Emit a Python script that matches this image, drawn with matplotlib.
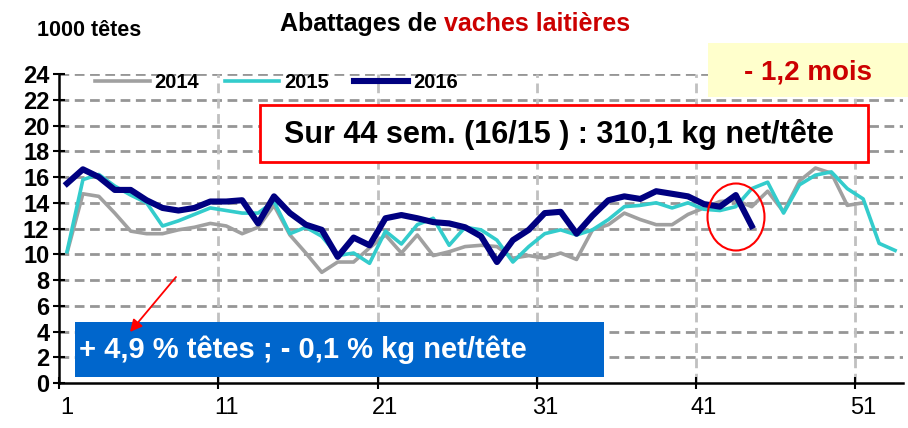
import numpy as np
import matplotlib.pyplot as plt
from matplotlib.patches import Ellipse, Rectangle, FancyArrowPatch

plt.rcParams["font.family"] = ["Liberation Sans", "DejaVu Sans"]

# Weekly dairy cow slaughter (1000 heads)
weeks_2014 = np.arange(1, 52)
tetes_2014 = [10.1, 14.7, 14.5, 13.2, 11.8, 11.6, 11.6, 11.9, 12.1, 12.4,
              12.2, 11.6, 12.1, 13.8, 11.5, 10.1, 8.6, 9.4, 9.4, 10.5,
              11.5, 10.1, 11.5, 9.9, 10.2, 10.6, 10.7, 10.6, 9.7, 9.9,
              9.7, 10.1, 9.6, 11.9, 12.3, 13.2, 12.7, 12.3, 12.3, 13.1,
              13.6, 14.1, 14.2, 13.7, 14.9, 13.3, 15.7, 16.7, 16.3, 13.8,
              14.0]

weeks_2015 = np.arange(1, 54)
tetes_2015 = [10.2, 15.8, 16.2, 15.3, 14.6, 14.0, 12.2, 12.6, 13.1, 13.6,
              13.4, 13.2, 13.2, 14.1, 11.6, 12.1, 11.4, 9.9, 10.1, 9.3,
              11.8, 10.8, 12.3, 12.8, 10.7, 12.1, 11.9, 11.1, 9.4, 10.6,
              11.6, 11.9, 11.5, 11.9, 12.7, 13.7, 13.8, 14.0, 13.6, 14.0,
              13.5, 13.4, 13.7, 15.1, 15.6, 13.2, 15.4, 16.15, 16.4, 15.1,
              14.3, 10.85, 10.3]

weeks_2016 = np.arange(1, 45)
tetes_2016 = [15.5, 16.6, 16.0, 15.0, 15.0, 14.2, 13.6, 13.4, 13.6, 14.1,
              14.1, 14.2, 12.4, 14.5, 13.2, 12.3, 11.9, 9.8, 11.3, 10.7,
              12.8, 13.05, 12.8, 12.5, 12.4, 12.1, 11.4, 9.4, 11.1, 11.9,
              13.2, 13.3, 11.6, 13.0, 14.2, 14.5, 14.3, 14.9, 14.7, 14.5,
              13.9, 13.7, 14.6, 12.2]

fig = plt.figure(figsize=(9.08, 4.28), dpi=100)
ax = fig.add_axes([0.065, 0.105, 0.9295, 0.722])

ax.plot(weeks_2014, tetes_2014, color="#A0A0A0", lw=2.6, label="2014", zorder=3)
ax.plot(weeks_2015, tetes_2015, color="#33CCCC", lw=2.6, label="2015", zorder=4)
ax.plot(weeks_2016, tetes_2016, color="#000080", lw=4.4, label="2016", zorder=5)

ax.set_xlim(0.5, 53.5)
ax.set_ylim(0, 24)

# Y axis
ax.set_yticks(np.arange(0, 25, 2))
ax.tick_params(axis="y", labelsize=17, direction="inout", length=8, width=1.5, pad=3)
for lab in ax.get_yticklabels():
    lab.set_fontweight("bold")
for y in np.arange(2, 25, 2):
    ax.axhline(y, color="#969696", lw=2, ls=(0, (3.5, 2)), zorder=1)

# X axis: labels centred on the week, ticks between categories
ax.set_xticks([1, 11, 21, 31, 41, 51])
ax.set_xticklabels(["1", "11", "21", "31", "41", "51"])
ax.tick_params(axis="x", which="major", length=0, labelsize=17, pad=10)
ax.set_xticks([0.5, 10.5, 20.5, 30.5, 40.5, 50.5], minor=True)
ax.tick_params(axis="x", which="minor", direction="inout", length=9, width=1.5)
for x in [10.5, 20.5, 30.5, 40.5, 50.5]:
    ax.axvline(x, color="#C0C0C0", lw=2, ls=(0, (3.5, 2)), zorder=1)

for s in ["top", "right"]:
    ax.spines[s].set_visible(False)
ax.spines["left"].set_linewidth(1.8)
ax.spines["bottom"].set_linewidth(1.8)

ax.legend(loc="center left", bbox_to_anchor=(0.043, 0.973), ncol=3, frameon=False,
          prop={"weight": "bold", "size": 14.5}, handlelength=2.7, handletextpad=0.25,
          columnspacing=1.25, borderpad=0, borderaxespad=0)

# Titles
t1 = fig.text(280 / 908, 0.945, "Abattages de ", fontsize=18, fontweight="bold",
              ha="left", va="center")
fig.canvas.draw()
bb = t1.get_window_extent()
fig.text(bb.x1 / fig.bbox.width, 0.945, "vaches laitières", fontsize=18, fontweight="bold",
         color="#CC0000", ha="left", va="center")
fig.text(37 / 908, 0.928, "1000 têtes", fontsize=15.5, fontweight="bold", ha="left", va="center")

# Yellow box
fig.patches.append(Rectangle((708 / 908, 1 - 97 / 428), 200 / 908, 54 / 428,
                             transform=fig.transFigure, facecolor="#FFFFCC", edgecolor="none", zorder=0))
fig.text(808 / 908, 1 - 72 / 428, "- 1,2 mois", fontsize=20, fontweight="bold", color="#CC0000",
         ha="center", va="center")

# Red framed box
fig.patches.append(Rectangle((260 / 908, 1 - 162 / 428), 608 / 908, 57 / 428,
                             transform=fig.transFigure, facecolor="white", edgecolor="#FF0000",
                             lw=2, zorder=9))
fig.text(559 / 908, 1 - 134 / 428, "Sur 44 sem. (16/15 ) : 310,1 kg net/tête", fontsize=22,
         fontweight="bold", ha="center", va="center", zorder=10)

# Blue box
fig.patches.append(Rectangle((75 / 908, 1 - 377 / 428), 529 / 908, 55 / 428,
                             transform=fig.transFigure, facecolor="#0066CC", edgecolor="none", zorder=6))
fig.text(79 / 908, 1 - 350 / 428, "+ 4,9 % têtes ; - 0,1 % kg net/tête", fontsize=21,
         fontweight="bold", color="white", ha="left", va="center", zorder=11)

# Arrow and ellipse
arrow = FancyArrowPatch((176 / 908, 1 - 277 / 428), (130 / 908, 1 - 332 / 428),
                        transform=fig.transFigure, arrowstyle="-|>", color="#FF0000",
                        lw=1.3, mutation_scale=18, shrinkA=0, shrinkB=0, zorder=12)
fig.patches.append(arrow)
fig.patches.append(Ellipse((736 / 908, 1 - 217 / 428), 57 / 908, 67 / 428,
                           transform=fig.transFigure, facecolor="none", edgecolor="#FF0000", lw=1.5,
                           zorder=12))

plt.savefig("out.png", dpi=100)
